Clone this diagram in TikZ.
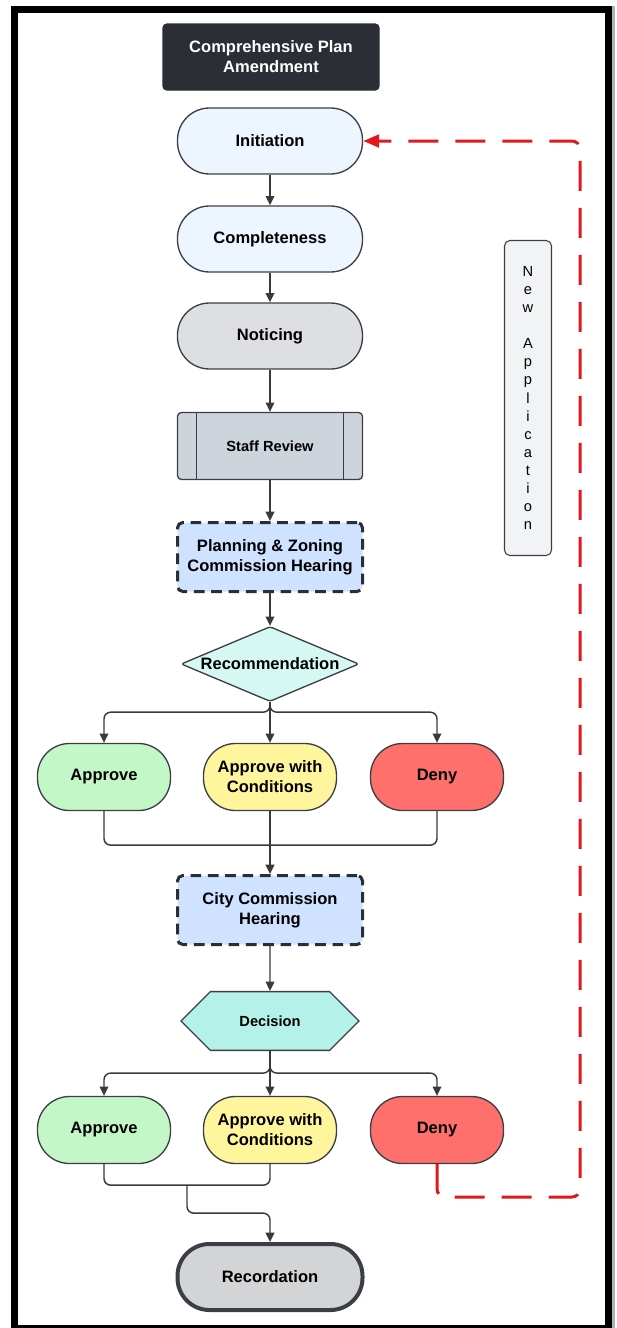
\documentclass[tikz,border=0pt]{standalone}
\usepackage{fontspec}
\setmainfont{Liberation Sans}
\usepackage{tikz}
\usetikzlibrary{arrows.meta,shapes.geometric,shapes.misc,calc}

\definecolor{titlebg}{HTML}{2B2F35}
\definecolor{edge}{HTML}{3B3F45}
\definecolor{linec}{HTML}{3A3A3A}
\definecolor{startbg}{HTML}{EDF5FF}
\definecolor{noticebg}{HTML}{DEDFE2}
\definecolor{staffbg}{HTML}{CED4DC}
\definecolor{hearbg}{HTML}{CFE2FF}
\definecolor{recbg}{HTML}{D5F8F2}
\definecolor{decbg}{HTML}{B4F2E9}
\definecolor{okbg}{HTML}{C3F7C8}
\definecolor{condbg}{HTML}{FFF59C}
\definecolor{denybg}{HTML}{FF6F6B}
\definecolor{endbg}{HTML}{D3D4D6}
\definecolor{notebg}{HTML}{F2F3F5}
\definecolor{loopred}{HTML}{E3171D}

\tikzset{
  base/.style={draw=edge, line width=1pt, align=center, inner sep=0pt,
    font=\bfseries\fontsize{12.4}{15}\selectfont},
  pill/.style={base, rounded corners=24pt, minimum width=138.75pt, minimum height=49.5pt},
  outcome/.style={base, rounded corners=24pt, minimum width=99.75pt, minimum height=50.25pt},
  hearing/.style={base, fill=hearbg, draw=titlebg, line width=2.25pt, rounded corners=4pt,
    dash pattern=on 8pt off 5pt, minimum width=138.75pt, minimum height=51.75pt},
  conn/.style={draw=linec, line width=1.1pt},
  arr/.style={conn, -{Triangle[length=7pt,width=6.5pt]}},
}

\begin{document}
\begin{tikzpicture}[x=0.75pt,y=-0.75pt]
  \useasboundingbox (0,0) rectangle (617,1328);
  % frame
  \draw[black!30, line width=2.5pt] (613.5,6) -- (613.5,1328);
  \draw[black, line width=5.25pt] (14.5,9.5) rectangle (608.3,1328.5);

  \node[base, fill=titlebg, draw=titlebg, text=white, rounded corners=3pt,
    minimum width=162pt, minimum height=49.5pt] (Title) at (271,57) {Comprehensive Plan\\Amendment};

  \node[pill, fill=startbg] (Init) at (270,141) {Initiation};
  \node[pill, fill=startbg] (Comp) at (270,239) {Completeness};
  \node[pill, fill=noticebg] (Notice) at (270,336) {Noticing};
  \node[base, fill=staffbg, rounded corners=3pt, minimum width=138.75pt, minimum height=50.25pt,
    font=\bfseries\fontsize{11}{13}\selectfont,
    path picture={
      \draw[edge, line width=1pt] ([xshift=14.25pt]path picture bounding box.north west) -- ([xshift=14.25pt]path picture bounding box.south west);
      \draw[edge, line width=1pt] ([xshift=-14.25pt]path picture bounding box.north east) -- ([xshift=-14.25pt]path picture bounding box.south east);
    }] (Staff) at (270,446) {Staff Review};
  \node[hearing] (PZ) at (270,557) {Planning \& Zoning\\Commission Hearing};
  \node[base, diamond, aspect=2.37, fill=recbg, rounded corners=2pt,
    minimum width=133.5pt, minimum height=56.25pt] (Rec) at (270,664) {Recommendation};

  \node[outcome, fill=okbg] (App1) at (104,777) {Approve};
  \node[outcome, fill=condbg] (AwC1) at (270,777) {Approve with\\Conditions};
  \node[outcome, fill=denybg] (Deny1) at (437,777) {Deny};

  \node[hearing] (City) at (270,910) {City Commission\\Hearing};
  \node[base, chamfered rectangle, chamfered rectangle xsep=18pt, chamfered rectangle ysep=18pt,
    fill=decbg, minimum width=133.5pt, minimum height=35pt,
    font=\bfseries\fontsize{11}{13}\selectfont] (Dec) at (270,1021) {Decision};

  \node[outcome, fill=okbg] (App2) at (104,1130) {Approve};
  \node[outcome, fill=condbg] (AwC2) at (270,1130) {Approve with\\Conditions};
  \node[outcome, fill=denybg] (Deny2) at (437,1130) {Deny};

  \node[pill, fill=endbg, line width=3pt] (Record) at (270,1277) {Recordation};

  \node[draw=edge, line width=0.8pt, fill=notebg, rounded corners=4pt, align=center,
    minimum width=35.25pt, minimum height=236.25pt, inner sep=0pt,
    font=\fontsize{11}{13.6}\selectfont] (NewApp) at (528,398)
    {N\\e\\w\\\mbox{}\\A\\p\\p\\l\\i\\c\\a\\t\\i\\o\\n};

  % main line
  \draw[arr] (Init) -- (Comp);
  \draw[arr] (Comp) -- (Notice);
  \draw[arr] (Notice) -- (Staff);
  \draw[arr] (Staff) -- (PZ);
  \draw[arr] (PZ) -- (Rec);

  % recommendation
  \draw[arr, rounded corners=5pt] (Rec.south) -- ++(0,10) -| (App1.north);
  \draw[arr, rounded corners=5pt] (Rec.south) -- ++(0,10) -| (Deny1.north);
  \draw[arr] (Rec.south) -- (AwC1.north);
  \draw[conn, rounded corners=5pt] (App1.south) -- ++(0,34) -| (Deny1.south);
  \draw[arr] (AwC1.south) -- (City.north);

  % decision
  \draw[arr] (City) -- (Dec);
  \draw[arr, rounded corners=5pt] (Dec.south) -- ++(0,22) -| (App2.north);
  \draw[arr, rounded corners=5pt] (Dec.south) -- ++(0,22) -| (Deny2.north);
  \draw[arr] (Dec.south) -- (AwC2.north);
  \draw[conn, rounded corners=5pt] (App2.south) -- ++(0,21) -| (AwC2.south);
  \coordinate (Join) at ($(App2.south)!0.5!(AwC2.south)+(0,21)$);
  \draw[arr, rounded corners=5pt] (Join) -- ++(0,28) -| (Record.north);

  % back to start
  \coordinate (Back) at (580,1197);
  \draw[loopred, line width=2.25pt, dash pattern=on 22.5pt off 12.75pt, rounded corners=6pt,
    -{Triangle[length=12pt,width=9.5pt]}] (Deny2.south) |- (Back) |- (Init.east);
\end{tikzpicture}
\end{document}
